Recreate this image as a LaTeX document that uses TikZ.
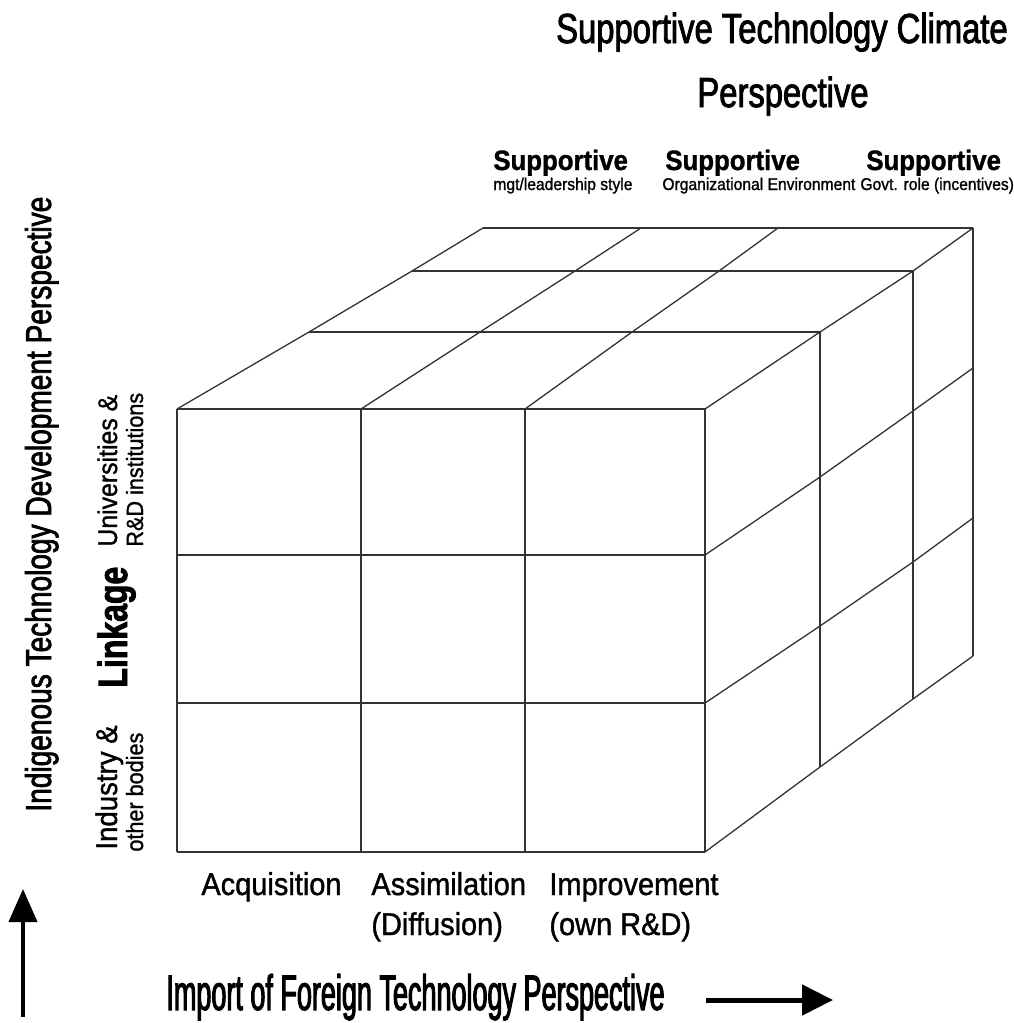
\documentclass[tikz,border=0pt]{standalone}
\usepackage{fontspec}
\setmainfont{Liberation Sans}
\newfontfamily\headfont[FakeStretch=0.78,FakeBold=2]{Liberation Sans}
\newfontfamily\axisfont[FakeStretch=0.54,FakeBold=2]{Liberation Sans}
\newfontfamily\labfont[FakeStretch=0.92,FakeBold=1.2]{Liberation Sans}
\usetikzlibrary{arrows.meta}

\newcommand{\fsz}[1]{\fontsize{#1}{#1}\selectfont}

\begin{document}
\begin{tikzpicture}[x=1pt,y=-1pt,thick,
  cube/.style={draw=black!80,line width=1.3pt,line join=miter},
  txt/.style={inner sep=0pt,anchor=base west}]

    % `cube' is used for every edge of the box.
    % `head', `sup', `small' and `lab' are used for the texts.
    % `side' is used for the texts that run upwards.
    \tikzstyle{head} = [txt,anchor=base,font=\headfont\fsz{42}]
    \tikzstyle{sup} = [txt,font=\labfont\bfseries\fsz{28}]
    \tikzstyle{small} = [txt,font=\labfont\fsz{17}]
    \tikzstyle{lab} = [txt,font=\labfont\fsz{31.5}]
    \tikzstyle{side} = [txt,rotate=90]
    \tikzstyle{bigarrow} = [-{Triangle[length=31pt,width=30pt]},line width=5pt]
    %
    \useasboundingbox (0,0) rectangle (1014,1023);

    % Front face.
    \foreach \x in {177,361,525,705}
        \draw[cube] (\x,409) -- (\x,852);
    \foreach \y in {409,555,703,852}
        \draw[cube] (177,\y) -- (705,\y);

    % Top face.
    \foreach \a/\b/\c/\d in {177/309/412/483,361/480/575/641,525/632/719/778,705/820/913/973}
        \draw[cube] (\a,409) -- (\b,332) -- (\c,271) -- (\d,228);
    \draw[cube] (309,332) -- (820,332) (412,271) -- (913,271) (483,228) -- (973,228);

    % Right face.
    \foreach \a/\b/\c/\d in {555/477/411/368,703/626/562/518,852/767/699/656}
        \draw[cube] (705,\a) -- (820,\b) -- (913,\c) -- (973,\d);
    \draw[cube] (820,332) -- (820,767) (913,271) -- (913,699) (973,228) -- (973,656);

    % Climate perspective.
    \node[head] (climate) at (782,43) {Supportive Technology Climate};
    \node[head] (climate2) at (783,107) {Perspective};
    \node[sup] (sup1) at (493,170) {Supportive};
    \node[sup] (sup2) at (665,170) {Supportive};
    \node[sup] (sup3) at (866,170) {Supportive};
    \node[small] (mgt) at (493,190) {mgt/leadership style};
    \node[small] (org) at (662,190) {Organizational Environment};
    \node[small] (govt) at (860,190) {Govt. role (incentives)};

    % Indigenous perspective.
    \node[side,font=\headfont\fsz{36}] (indig) at (51,812) {Indigenous Technology Development Perspective};
    \node[side,font=\headfont\bfseries\fsz{41}] (link) at (127,688) {Linkage};
    \node[side,font=\labfont\fsz{27}] (univ) at (117,547) {Universities \&};
    \node[side,font=\labfont\fsz{23.5}] (rnd) at (143,547) {R\&D institutions};
    \node[side,font=\labfont\fsz{30}] (indus) at (117,850) {Industry \&};
    \node[side,font=\labfont\fsz{23.5}] (other) at (143,852) {other bodies};

    % Import perspective.
    \node[lab] (acq) at (201,895) {Acquisition};
    \node[lab] (assim) at (371,895) {Assimilation};
    \node[lab] (improv) at (549,895) {Improvement};
    \node[lab] (diff) at (371,935) {(Diffusion)};
    \node[lab] (ownrd) at (549,935) {(own R\&D)};
    \node[txt,font=\axisfont\fsz{50}] (import) at (166,1010) {Import of Foreign Technology Perspective};

    % Arrows.
    \coordinate (right0) at (706,1000);
    \coordinate (right1) at (833,1000);
    \coordinate (up0) at (23,1017);
    \coordinate (up1) at (23,889);
    \draw[bigarrow] (right0) -- (right1);
    \draw[-{Triangle[length=33pt,width=28pt]},line width=4pt] (up0) -- (up1);
    %
\end{tikzpicture}
\end{document}
